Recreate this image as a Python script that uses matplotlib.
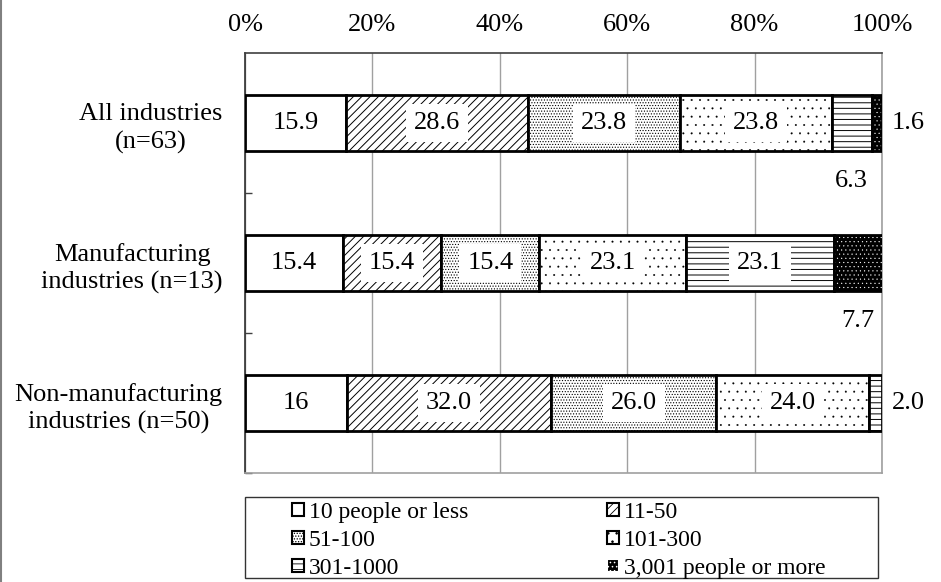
import matplotlib
matplotlib.use('Agg')
import matplotlib.pyplot as plt
from matplotlib.patches import Patch, Rectangle
from matplotlib.lines import Line2D
from matplotlib.ticker import PercentFormatter

plt.rcParams['font.family'] = ['Liberation Serif', 'DejaVu Serif']
plt.rcParams['hatch.linewidth'] = 0.6

# data
categories = ['All industries\n(n=63)',
              'Manufacturing\nindustries (n=13)',
              'Non-manufacturing\nindustries (n=50)']
size_groups = ['10 people or less', '11-50', '51-100', '101-300',
               '301-1000', '3,001 people or more']
all_ind = [15.9, 28.6, 23.8, 23.8, 6.3, 1.6]
manuf = [15.4, 15.4, 15.4, 23.1, 23.1, 7.7]
non_manuf = [16, 32.0, 26.0, 24.0, 2.0, 0]
rows = [all_ind, manuf, non_manuf]

# fill styles per size group
faces = ['white', 'white', 'white', 'white', 'white', 'black']
hatches = [None, '////', '......', '..', '---', '....']
hatch_lw = [0.6, 0.7, 0.5, 0.2, 0.7, 0.3]


def set_hlw(p, lw):
    if hasattr(p, 'set_hatch_linewidth'):
        p.set_hatch_linewidth(lw)


fig = plt.figure(figsize=(9.41, 5.82), dpi=100)
ax = fig.add_axes([0.2604, 0.1873, 0.6769, 0.7216])

ypos = range(len(categories))
for i, vals in enumerate(rows):
    left = 0
    for j, v in enumerate(vals):
        if v == 0:
            continue
        if faces[j] == 'black':
            b = ax.barh(i, v, left=left, height=0.4, color='black',
                        edgecolor='white', hatch=hatches[j], linewidth=0, zorder=3)
            ax.barh(i, v, left=left, height=0.4, fill=False,
                    edgecolor='black', linewidth=2, zorder=4)
        else:
            b = ax.barh(i, v, left=left, height=0.4, facecolor=faces[j],
                        edgecolor='black', hatch=hatches[j], linewidth=2, zorder=3)
        for p in b:
            set_hlw(p, hatch_lw[j])
        cx = left + v / 2
        txt = str(v)
        if v >= 10:
            ax.text(cx, i, txt, ha='center', va='center', fontsize=19, zorder=5,
                    bbox=dict(boxstyle='square,pad=0.3', fc='white', ec='none'))
        elif v < 5:
            ax.annotate(txt, xy=(left + v, i), xytext=(19, 0),
                        textcoords='offset points', ha='center', va='center',
                        fontsize=19)
        else:
            ax.annotate(txt, xy=(cx, i), xytext=(0, -42),
                        textcoords='offset points', ha='center', va='center',
                        fontsize=19)
        left += v

ax.set_xlim(0, 100)
ax.set_ylim(2.5, -0.5)
ax.set_xticks(range(0, 101, 20))
ax.xaxis.set_major_formatter(PercentFormatter(decimals=0))
ax.xaxis.tick_top()
ax.tick_params(axis='x', length=0, pad=12, labelsize=19)
ax.grid(axis='x', color='#a0a0a0', linewidth=1, zorder=0)

ax.set_yticks(list(ypos))
ax.set_yticklabels(categories, fontsize=19, linespacing=1.3)
for lab in ax.get_yticklabels():
    lab.set_multialignment('center')
ax.tick_params(axis='y', which='major', length=0, pad=16)
ax.set_yticks([0.5, 1.5, 2.5], minor=True)
ax.tick_params(axis='y', which='minor', direction='in', length=5,
               color='#404040', width=1)

ax.spines['left'].set_color('#303030')
ax.spines['top'].set_color('#404040')
ax.spines['right'].set_color('#a0a0a0')
ax.spines['bottom'].set_color('#a0a0a0')
for s in ax.spines.values():
    s.set_linewidth(1.2)

# legend, filled row by row
handles = []
for j, name in enumerate(size_groups):
    ec = 'white' if faces[j] == 'black' else 'black'
    h = Patch(facecolor=faces[j], edgecolor=ec, hatch=hatches[j],
              linewidth=1.5, label=name)
    set_hlw(h, hatch_lw[j])
    handles.append(h)
order = [0, 2, 4, 1, 3, 5]
fig.legend([handles[k] for k in order], [size_groups[k] for k in order],
           ncol=2, loc='upper left', bbox_to_anchor=(0.3103, 0.1375),
           frameon=False, fontsize=17, handlelength=0.5, handleheight=0.5,
           handletextpad=0.2, columnspacing=5.9, labelspacing=0.3,
           borderpad=0, borderaxespad=0)
fig.add_artist(Rectangle((0.2604, 0.0069), 0.6727, 0.139, transform=fig.transFigure,
                         fill=False, edgecolor='#333333', linewidth=1))
fig.add_artist(Line2D([0.0015, 0.0015], [0, 1], transform=fig.transFigure,
                      color='#808080', linewidth=1.5))

fig.savefig('out.png', dpi=100)
